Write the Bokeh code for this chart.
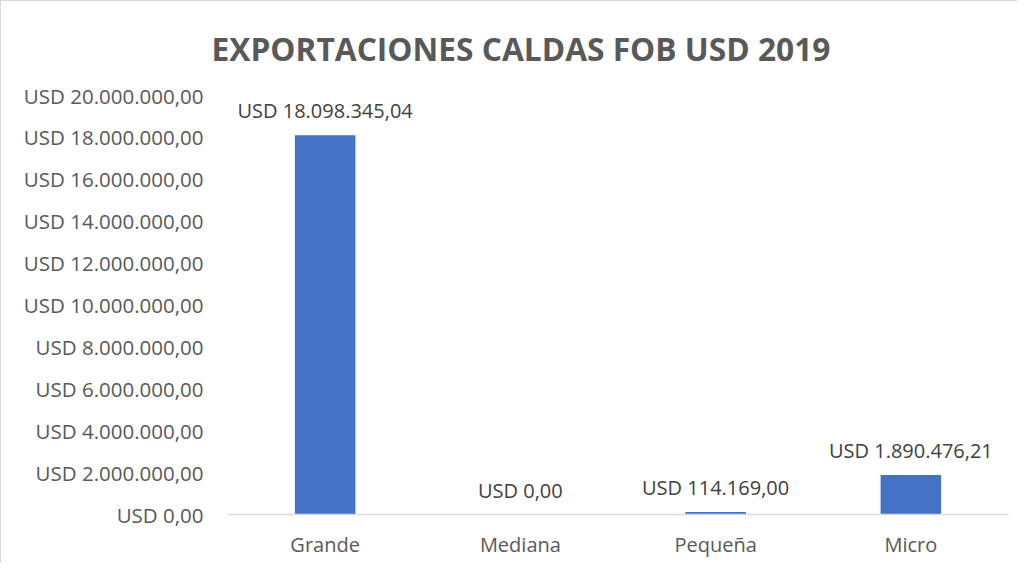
from bokeh.plotting import figure
from bokeh.models import ColumnDataSource, FactorRange, Range1d, LabelSet, FixedTicker
from bokeh.core.properties import value
from bokeh.embed import file_html
from bokeh.resources import INLINE

categories = ["Grande", "Mediana", "Pequeña", "Micro"]
values = [18098345.04, 0.00, 114169.00, 1890476.21]
y_ticks = [0, 2000000, 4000000, 6000000, 8000000, 10000000, 12000000, 14000000, 16000000, 18000000, 20000000]
title_text = "EXPORTACIONES CALDAS FOB USD 2019"


def fmt_usd(v):
    s = f"{v:,.2f}"
    s = s.replace(",", "X").replace(".", ",").replace("X", ".")
    return "USD " + s


labels = [fmt_usd(v) for v in values]
src = ColumnDataSource(dict(cat=categories, val=values, lab=labels))

FONT = "Open Sans"
GREY = "#595959"

p = figure(
    x_range=FactorRange(*categories, range_padding=0),
    y_range=Range1d(0, 20000000),
    width=1017, height=563,
    output_backend="svg", toolbar_location=None,
    min_border_left=226, min_border_right=10,
    min_border_top=94, min_border_bottom=50,
    title=title_text,
)
p.styles = {"border-left": "1px solid #d9d9d9", "border-top": "1px solid #d9d9d9"}

p.title.align = "left"
p.title.offset = -16
p.title.vertical_align = "top"
p.title.text_font = FONT
p.title.text_font_size = "31.7px"
p.title.text_font_style = "bold"
p.title.text_color = GREY
p.title.standoff = 48

p.vbar(x="cat", top="val", width=0.31, source=src, fill_color="#4472C4", line_color=None)

p.add_layout(LabelSet(x="cat", y="val", text="lab", source=src, text_align="center",
                      text_baseline="bottom", y_offset=11, text_font=value(FONT),
                      text_font_size=value("20px"), text_color="#404040"))

p.outline_line_color = None
p.xgrid.grid_line_color = None
p.ygrid.grid_line_color = None

p.yaxis.ticker = FixedTicker(ticks=y_ticks)
p.yaxis.major_label_overrides = {t: fmt_usd(t) for t in y_ticks}
p.yaxis.axis_line_color = None
p.yaxis.major_tick_line_color = None
p.yaxis.minor_tick_line_color = None
p.yaxis.major_label_standoff = 18
p.yaxis.major_label_text_font = FONT
p.yaxis.major_label_text_font_size = "20.5px"
p.yaxis.major_label_text_color = GREY

p.xaxis.axis_line_color = "#d9d9d9"
p.xaxis.axis_line_width = 1.5
p.xaxis.major_tick_line_color = None
p.xaxis.minor_tick_line_color = None
p.xaxis.major_label_standoff = 10
p.xaxis.major_label_text_font = FONT
p.xaxis.major_label_text_font_size = "20px"
p.xaxis.major_label_text_color = GREY

p.background_fill_color = "white"
p.border_fill_color = "white"

open("out.html", "w").write(file_html(p, INLINE))
